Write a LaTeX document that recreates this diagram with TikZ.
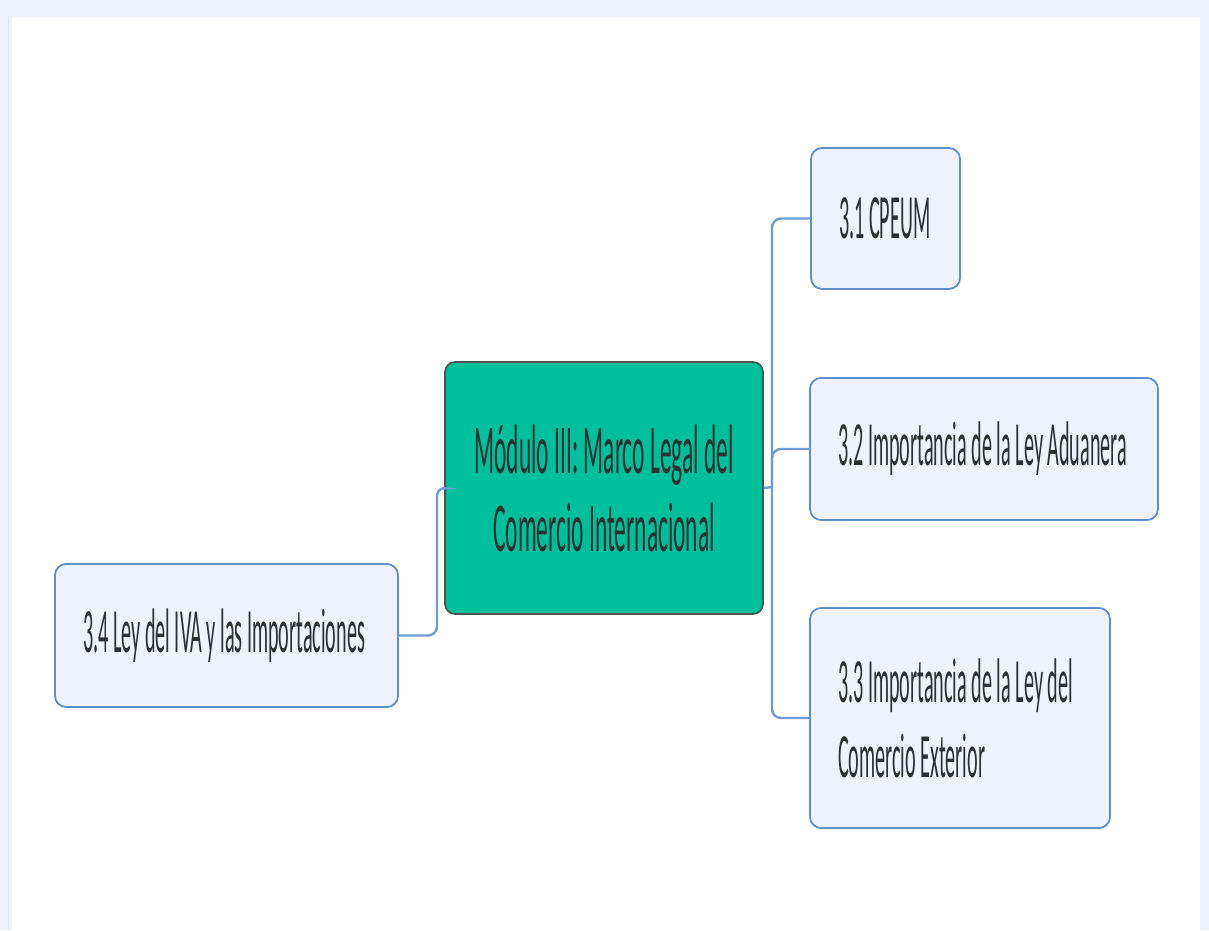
\documentclass[tikz,border=0pt]{standalone}
\usepackage{fontspec}
\newfontfamily\mapfont[FakeStretch=0.32]{Carlito}
\newfontfamily\rootfont[FakeStretch=0.335]{Carlito}
\usepackage{tikz}
\usetikzlibrary{calc}
\definecolor{pageback}{HTML}{EDF2FA}
\definecolor{pageline}{HTML}{DDE3EC}
\definecolor{rootgreen}{HTML}{00BF9B}
\definecolor{rootedge}{HTML}{4A5550}
\definecolor{topicfill}{HTML}{EEF3FB}
\definecolor{topicedge}{HTML}{5E8FCB}
\definecolor{linkblue}{HTML}{6F9CD3}
\definecolor{textdark}{HTML}{2B3033}
\tikzset{
    root/.style={draw=rootedge, fill=rootgreen, line width=1.6pt, rounded corners=10pt, minimum width=318pt, minimum height=252pt, align=center, text=textdark, font=\rootfont\fontsize{70}{78}\selectfont},
    topic/.style={draw=topicedge, fill=topicfill, line width=1.8pt, rounded corners=11pt, inner xsep=28pt, inner ysep=0pt, align=flush left, text=textdark, font=\mapfont\fontsize{63}{75}\selectfont},
    link/.style={draw=linkblue, line width=2.4pt, rounded corners=9pt}
}

\begin{document}
\begin{tikzpicture}[x=1pt, y=-1pt]
    % page
    \fill[pageback] (0,0) rectangle (1209,930);
    \fill[white] (12,17) rectangle (1200,930);
    \draw[pageline, line width=1pt] (8,17) -- (8,930);
    % nodes
    \node[root] (modulo) at (604,488) {Módulo III: Marco Legal del\\Comercio Internacional};
    \node[topic, text width=93pt, minimum height=141pt] (cpeum) at (885.5,218.5) {3.1 CPEUM};
    \node[topic, text width=292pt, minimum height=142pt] (aduana) at (984,449) {3.2 Importancia de la Ley Aduanera};
    \node[topic, text width=244pt, minimum height=220pt] (exterior) at (960,718) {3.3 Importancia de la Ley del\\Comercio Exterior};
    \node[topic, text width=287pt, minimum height=143pt] (iva) at (226.5,635.5) {3.4 Ley del IVA y las Importaciones};
    % connectors
    \coordinate (hubR) at (772,487);
    \coordinate (hubL) at (437,487);
    \draw[link] (modulo.east) -- (hubR);
    \draw[link] (hubR) |- (cpeum.west);
    \draw[link] (hubR) |- (aduana.west);
    \draw[link] (hubR) |- (exterior.west);
    \draw[link] (modulo.west) -- (hubL) |- (iva.east);
\end{tikzpicture}
\end{document}
